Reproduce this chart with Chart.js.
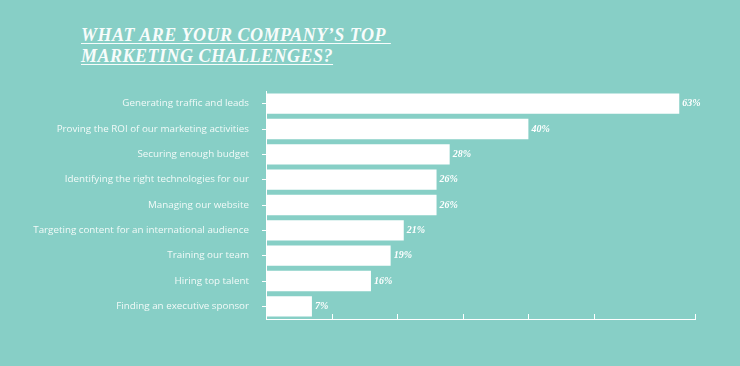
<!DOCTYPE html>
<html>
<head>
<meta charset="utf-8">
<script src="https://cdn.jsdelivr.net/npm/chart.js@4.4.1/dist/chart.umd.min.js"></script>
<style>
  html, body { margin: 0; padding: 0; background: #87cfc6; }
  #wrap { position: relative; width: 740px; height: 366px; overflow: hidden; }
  #title {
    position: absolute; left: 81px; top: 25px;
    font-family: "Liberation Serif", serif; font-style: italic; font-weight: bold;
    font-size: 18px; line-height: 21px; letter-spacing: 0.5px; color: #f7fcfb;
    text-decoration: underline; text-decoration-thickness: 1px; text-underline-offset: 2px;
  }
  #chart { position: absolute; left: 0; top: 0; }
</style>
</head>
<body>
<div id="wrap">
  <div id="title">WHAT ARE YOUR COMPANY’S TOP&nbsp;<br>MARKETING CHALLENGES?</div>
  <canvas id="chart" width="740" height="366"></canvas>
</div>
<script>
// Chart data
const challenges = [
  'Generating traffic and leads',
  'Proving the ROI of our marketing activities',
  'Securing enough budget',
  'Identifying the right technologies for our',
  'Managing our website',
  'Targeting content for an international audience',
  'Training our team',
  'Hiring top talent',
  'Finding an executive sponsor'
];
const percentages = [63, 40, 28, 26, 26, 21, 19, 16, 7];

const white = '#ffffff';

// Value labels after each bar
const valueLabels = {
  id: 'valueLabels',
  afterDatasetsDraw(chart) {
    const ctx = chart.ctx;
    const meta = chart.getDatasetMeta(0);
    ctx.save();
    ctx.font = 'italic bold 10px "Liberation Serif"';
    ctx.fillStyle = white;
    ctx.textAlign = 'left';
    ctx.textBaseline = 'middle';
    meta.data.forEach((bar, i) => {
      ctx.fillText(percentages[i] + '%', bar.x + 3, bar.y);
    });
    ctx.restore();
  }
};

// Small tick marks pointing up from the x axis
const upTicks = {
  id: 'upTicks',
  afterDraw(chart) {
    const ctx = chart.ctx;
    const x = chart.scales.x;
    const bottom = chart.chartArea.bottom;
    ctx.save();
    ctx.strokeStyle = white;
    ctx.lineWidth = 1;
    x.ticks.forEach(t => {
      if (t.value === 0) return;
      const px = Math.round(x.getPixelForValue(t.value)) + 0.5;
      ctx.beginPath();
      ctx.moveTo(px, bottom - 5);
      ctx.lineTo(px, bottom);
      ctx.stroke();
    });
    ctx.restore();
  }
};

new Chart(document.getElementById('chart').getContext('2d'), {
  type: 'bar',
  data: {
    labels: challenges,
    datasets: [{
      data: percentages,
      backgroundColor: white,
      borderWidth: 0,
      barPercentage: 0.8,
      categoryPercentage: 1.0
    }]
  },
  options: {
    indexAxis: 'y',
    responsive: false,
    animation: false,
    layout: { padding: { top: 91, right: 45, left: 0, bottom: 0 } },
    plugins: {
      legend: { display: false },
      tooltip: { enabled: false }
    },
    scales: {
      x: {
        min: 0,
        max: 65.4,
        ticks: { display: false, stepSize: 10 },
        grid: { drawOnChartArea: false, drawTicks: false },
        border: { color: white, width: 1 },
        afterFit(scale) { scale.height = 47; }
      },
      y: {
        ticks: {
          color: '#f2faf8',
          padding: 13,
          font: { family: '"Open Sans"', size: 9.8 }
        },
        grid: { drawOnChartArea: false, offset: false, tickLength: 4, color: white },
        border: { color: white, width: 1 },
        afterFit(scale) { scale.width = 266; }
      }
    }
  },
  plugins: [valueLabels, upTicks]
});
</script>
</body>
</html>
